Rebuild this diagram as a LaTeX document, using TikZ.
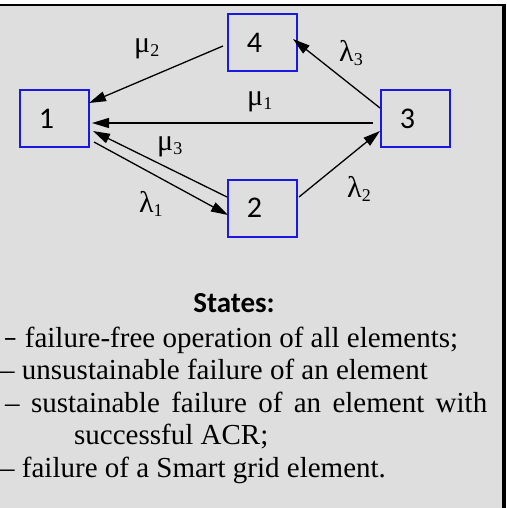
\documentclass[tikz,border=0pt]{standalone}
\usepackage{fontspec}
\setmainfont{Liberation Serif}
\newfontfamily\carl{Carlito}
\usetikzlibrary{arrows.meta,calc}
\definecolor{bgrey}{RGB}{222,222,222}
\definecolor{boxblue}{RGB}{25,25,225}
\newcommand\glab[2]{{\fontsize{30}{30}\selectfont #1}\raisebox{-4pt}{\fontsize{18}{18}\selectfont #2}}
\begin{document}
\begin{tikzpicture}[x=1pt,y=1pt,
  boxst/.style={draw=boxblue, line width=2pt, minimum width=69pt, minimum height=57pt, inner sep=0pt,
    font=\carl\fontsize{30}{30}\selectfont, execute at begin node=\kern-16pt},
  arr/.style={line width=1.3pt, -{Triangle[length=17pt,width=10pt]}},
  glabel/.style={anchor=base west, inner sep=0pt},
  body/.style={anchor=base west, inner sep=0pt, font=\fontsize{29}{32.5}\selectfont}]
\useasboundingbox (0,0) rectangle (506,-508);
\fill[bgrey] (0,-4) rectangle (502,-508);
\draw[line width=2.5pt] (0,-5.25) -- (506,-5.25);
\draw[line width=4pt] (504,-4) -- (504,-508);
% state boxes
\node[boxst] (b4) at (262.5,-43) {4};
\node[boxst] (b1) at (54.5,-118.5) {1};
\node[boxst] (b3) at (415.5,-118.5) {3};
\node[boxst] (b2) at (262.5,-208) {2};
% transitions
\draw[arr] ($(b4.west)+(-4,-3)$) -- ($(b1.east)+(-1,15.5)$);
\draw[arr] ($(b3.west)+(0,10.5)$) -- ($(b4.east)+(-5,4)$);
\draw[arr] ($(b3.west)+(-7,-4.5)$) -- ($(b1.east)+(2,-4.5)$);
\draw[arr] ($(b2.west)+(0,11)$) -- ($(b1.east)+(3,-12.5)$);
\draw[arr] ($(b1.east)+(4,-23.5)$) -- ($(b2.west)+(1,-7)$);
\draw[arr] ($(b2.east)+(1,11)$) -- ($(b3.west)+(0,-12.5)$);
% rate labels
\node[glabel] (m2) at (134,-53) {\glab{μ}{2}};
\node[glabel] (l3) at (339,-62) {\glab{λ}{3}};
\node[glabel] (m1) at (247,-106) {\glab{μ}{1}};
\node[glabel] (m3) at (157,-150) {\glab{μ}{3}};
\node[glabel] (l1) at (139,-212) {\glab{λ}{1}};
\node[glabel] (l2) at (347,-197) {\glab{λ}{2}};
% legend
\node[anchor=base, inner sep=0pt, font=\carl\bfseries\fontsize{29}{29}\selectfont] (st) at (234,-312) {States:};
\node[body] (t1) at (3,-347) {{\carl –} failure-free operation of all elements;};
\node[body] (t2) at (0,-379.5) {– unsustainable failure of an element};
\node[body] (t3) at (5,-412) {\makebox[482pt][s]{– sustainable failure of an element with}};
\node[body] (t4) at (74,-444.5) {successful ACR;};
\node[body] (t5) at (0,-477) {– failure of a Smart grid element.};
\end{tikzpicture}
\end{document}
